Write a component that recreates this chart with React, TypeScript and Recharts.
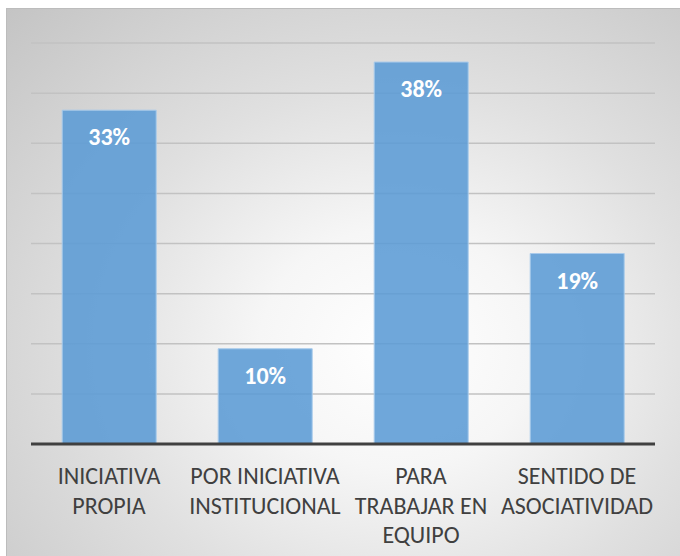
import { BarChart, Bar, XAxis, YAxis, CartesianGrid, LabelList } from "recharts";

const categories = [
  "INICIATIVA\nPROPIA",
  "POR INICIATIVA\nINSTITUCIONAL",
  "PARA\nTRABAJAR EN\nEQUIPO",
  "SENTIDO DE\nASOCIATIVIDAD",
];
const percentages = [33.3, 9.5, 38.1, 19.0];
const yTicks = [0, 5, 10, 15, 20, 25, 30, 35, 40];

const data = categories.map((name, i) => ({ name, value: percentages[i] }));

const FONT = "Carlito, Calibri, 'Open Sans', sans-serif";

function CategoryTick(props: any) {
  const { x, y, payload } = props;
  const lines: string[] = String(payload.value).split("\n");
  return (
    <text x={x} y={y} textAnchor="middle" fill="#404040" fontSize={24} fontFamily={FONT}>
      {lines.map((line, i) => (
        <tspan key={i} x={x} dy={i === 0 ? 40 : 29.5}>
          {line}
        </tspan>
      ))}
    </text>
  );
}

export default function App() {
  return (
    <div style={{ position: "absolute", left: 0, top: 0, width: 680, height: 556, background: "#fff" }}>
      <div
        style={{
          position: "absolute",
          left: 6,
          top: 8,
          width: 674,
          height: 548,
          boxSizing: "border-box",
          borderTop: "1px solid #bcbcbc",
          borderLeft: "1px solid #bcbcbc",
          background:
            "radial-gradient(ellipse farthest-corner at 58% 62%, #ffffff 0%, #f6f6f6 25%, #e0e0e0 55%, #c4c4c4 100%)",
        }}
      >
        <BarChart
          width={673}
          height={547}
          data={data}
          margin={{ top: 34, right: 25, left: 24, bottom: 0 }}
          barCategoryGap="20%"
        >
          <CartesianGrid vertical={false} stroke="#c2c2c2" strokeWidth={1.5} />
          <YAxis hide domain={[0, 40]} ticks={yTicks} />
          <XAxis
            dataKey="name"
            height={112}
            interval={0}
            tickLine={false}
            tickSize={0}
            tickMargin={0}
            axisLine={{ stroke: "#404040", strokeWidth: 3 }}
            tick={<CategoryTick />}
          />
          <Bar
            dataKey="value"
            fill="#5b9bd5"
            fillOpacity={0.88}
            stroke="#a9cbeb"
            strokeWidth={1}
            isAnimationActive={false}
          >
            <LabelList
              dataKey="value"
              position="insideTop"
              offset={18}
              fill="#ffffff"
              fontSize={24}
              fontWeight="bold"
              fontFamily={FONT}
              formatter={(v: any) => `${Math.round(Number(v))}%`}
            />
          </Bar>
        </BarChart>
      </div>
    </div>
  );
}
